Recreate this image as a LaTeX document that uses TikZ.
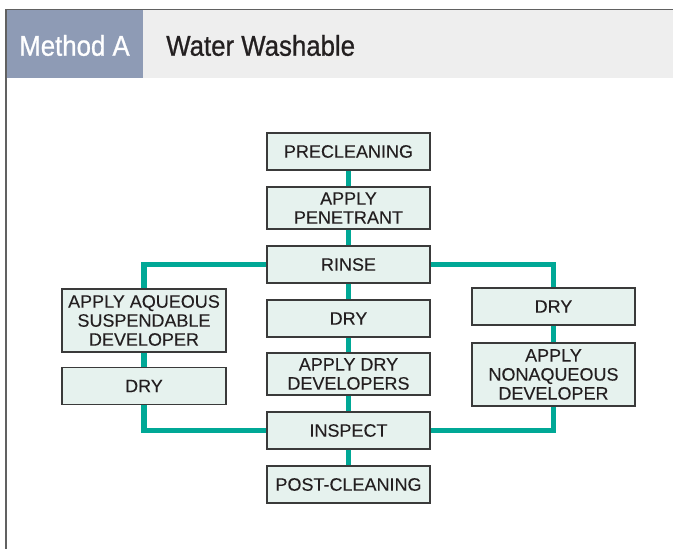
\documentclass[tikz,border=0pt]{standalone}
\usepackage{fontspec}
\setmainfont{Liberation Sans}
\newfontfamily\hdrfont[FakeStretch=0.9,FakeBold=0.8]{Liberation Sans}
\newfontfamily\boxfont[FakeBold=0.1]{Liberation Sans}
\definecolor{hdrblue}{HTML}{8E9BB5}
\definecolor{hdrgray}{HTML}{EEEEEE}
\definecolor{boxfill}{HTML}{E6F2EE}
\definecolor{boxline}{HTML}{3A3A3A}
\definecolor{teal}{HTML}{00A896}
\definecolor{txt}{HTML}{231F20}
\tikzset{
  stepbox/.style={draw=boxline, fill=boxfill, line width=1.1pt, inner sep=0pt,
    minimum width=163*0.75pt, align=center, text=txt,
    font=\boxfont\fontsize{13.5}{14.25}\selectfont},
  h37/.style={minimum height=37*0.75pt},
  h42/.style={minimum height=42*0.75pt},
  h63/.style={minimum height=63*0.75pt},
  link/.style={draw=teal, line width=3.8pt},
  hdrtext/.style={inner sep=0pt, font=\hdrfont\fontsize{21.5}{24}\selectfont},
}
\begin{document}
\begin{tikzpicture}[x=0.75pt,y=-0.75pt]
\useasboundingbox (0,0) rectangle (673,549);
% header
\fill[hdrgray] (143,10) rectangle (673,78);
\fill[hdrblue] (6,10) rectangle (143,78);
\draw[boxline!80, line width=1.1pt] (673,9.5) -- (6,9.5) -- (6,549);
\node[hdrtext, text=white] (mA) at (74.5,45.5) {Method A};
\node[hdrtext, text=txt, anchor=west] (ww) at (166,45.5) {Water Washable};
% boxes
\node[stepbox,h37] (pre) at (348.5,151.5) {PRECLEANING};
\node[stepbox,h42] (pen) at (348.5,208) {APPLY\\PENETRANT};
\node[stepbox,h37] (rinse) at (348.5,264.5) {RINSE};
\node[stepbox,h37] (cdry) at (348.5,318.5) {DRY};
\node[stepbox,h42] (adev) at (348.5,374) {APPLY DRY\\DEVELOPERS};
\node[stepbox,h37] (insp) at (348.5,430.5) {INSPECT};
\node[stepbox,h37] (post) at (348.5,484.5) {POST-CLEANING};
\node[stepbox,h63,minimum width=164*0.75pt] (laq) at (144,320.5) {APPLY AQUEOUS\\SUSPENDABLE\\DEVELOPER};
\node[stepbox,h37,minimum width=164*0.75pt] (ldry) at (144,386) {DRY};
\node[stepbox,h37] (rdry) at (553.5,306.5) {DRY};
\node[stepbox,h63] (rnon) at (553.5,374.5) {APPLY\\NONAQUEOUS\\DEVELOPER};
% connectors
\draw[link] (pre) -- (pen);
\draw[link] (pen) -- (rinse);
\draw[link] (rinse) -- (cdry);
\draw[link] (cdry) -- (adev);
\draw[link] (adev) -- (insp);
\draw[link] (insp) -- (post);
\draw[link] (laq) -- (ldry);
\draw[link] (rdry) -- (rnon);
\draw[link] (rinse.west) -| (laq.north);
\draw[link] (rinse.east) -| (rdry.north);
\draw[link] (ldry.south) |- (insp.west);
\draw[link] (rnon.south) |- (insp.east);
\end{tikzpicture}
\end{document}
